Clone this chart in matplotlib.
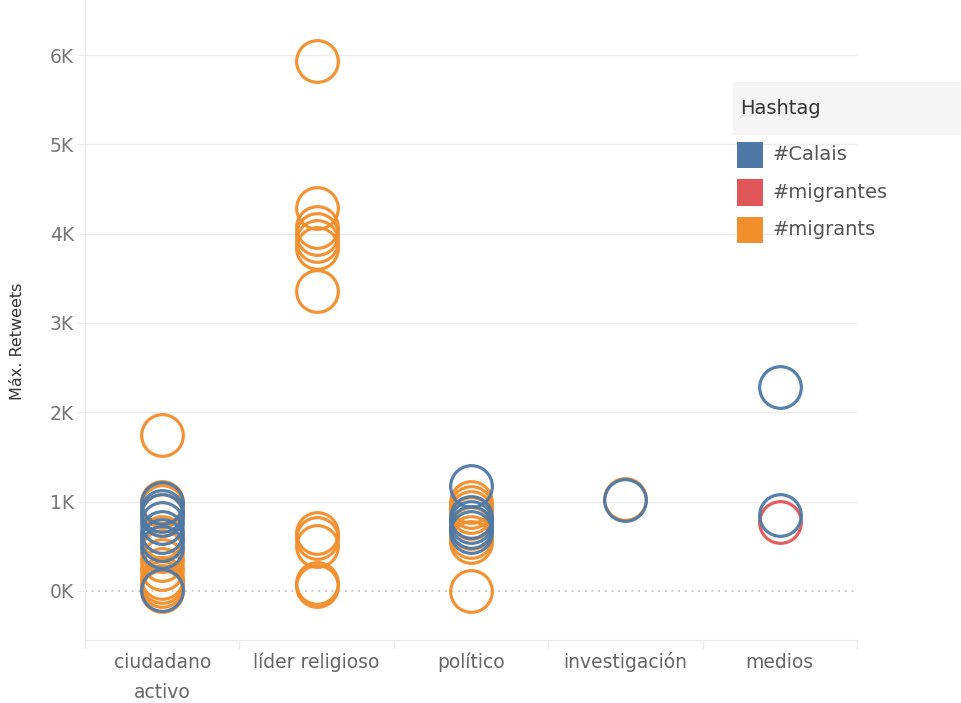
import matplotlib
matplotlib.use("Agg")
import matplotlib.pyplot as plt
from matplotlib.patches import Rectangle
from matplotlib.lines import Line2D
import matplotlib.ticker as mticker

plt.rcParams["font.family"] = ["DejaVu Sans"]

categories = ["ciudadano\nactivo", "líder religioso", "político", "investigación", "medios"]

hashtags = ["#Calais", "#migrantes", "#migrants"]
colors = {"#Calais": "#4E79A7", "#migrantes": "#E15759", "#migrants": "#F28E2B"}

# category index and max retweets per point
calais_cat = [0, 0, 0, 0, 0, 0, 0, 0, 2, 2, 2, 2, 2, 3, 4, 4]
calais_vals = [980, 900, 850, 760, 660, 570, 490, 10, 1180, 830, 770, 720, 660, 1020, 2280, 850]

migrantes_cat = [4]
migrantes_vals = [770]

migrants_cat = [0] * 12 + [1] * 12 + [2] * 8 + [3]
migrants_vals = [1750, 1000, 950, 850, 600, 450, 350, 250, 150, 100, 50, 0,
                 5930, 4290, 4070, 4000, 3920, 3840, 3360, 650, 590, 500, 90, 50,
                 1000, 940, 880, 820, 700, 600, 550, 0,
                 1030]

W, H = 961, 703
fig = plt.figure(figsize=(W / 100, H / 100), dpi=100)
ax = fig.add_axes([85 / W, (H - 640) / H, (857 - 85) / W, 640 / H])

series = [("#migrants", migrants_cat, migrants_vals),
          ("#migrantes", migrantes_cat, migrantes_vals),
          ("#Calais", calais_cat, calais_vals)]
for name, cats, vals in series:
    ax.plot(cats, vals, linestyle="none", marker="o", markersize=30,
            markerfacecolor="none", markeredgecolor=colors[name],
            markeredgewidth=2.3, alpha=0.95, clip_on=False)

ax.set_xlim(-0.5, 4.5)
ax.set_ylim(-549, 6616)
ax.set_yticks(range(0, 7000, 1000))
ax.yaxis.set_major_formatter(mticker.FuncFormatter(lambda v, p: f"{int(v / 1000)}K"))
ax.set_xticks(range(len(categories)))
ax.set_xticklabels(categories, linespacing=1.75)

ax.grid(False)
for v in range(1000, 7000, 1000):
    ax.axhline(v, color="#ececec", lw=1, zorder=0)
ax.axhline(0, color="#bbbbbb", lw=1.2, linestyle=(0, (1, 3)), zorder=0)

for s in ["top", "right"]:
    ax.spines[s].set_visible(False)
ax.spines["left"].set_color("#ececec")
ax.spines["bottom"].set_color("#ececec")
ax.tick_params(axis="y", length=6, color="#ececec", labelcolor="#777777", labelsize=13.5, pad=2)
ax.tick_params(axis="x", length=0, labelcolor="#666666", labelsize=13.5, pad=9)

# category separators under the axis
for b in [-0.5, 0.5, 1.5, 2.5, 3.5, 4.5]:
    ax.add_line(Line2D([b, b], [0, -8 / 640], transform=ax.get_xaxis_transform(),
                       color="#ececec", lw=1, clip_on=False))

fig.text(18 / W, 1 - 341 / H, "Máx. Retweets", rotation=90, ha="center", va="center",
         fontsize=11.5, color="#333333")

# legend panel
fig.patches.append(Rectangle((733 / W, 1 - 135 / H), (W - 733) / W, 53 / H,
                             transform=fig.transFigure, facecolor="#f5f5f5",
                             edgecolor="none", zorder=0))
fig.text(740 / W, 1 - 108 / H, "Hashtag", ha="left", va="center",
         fontsize=14, color="#333333")
for i, name in enumerate(hashtags):
    yc = 155 + i * 37.5
    fig.patches.append(Rectangle((737 / W, 1 - (yc + 13) / H), 26 / W, 26 / H,
                                 transform=fig.transFigure, facecolor=colors[name],
                                 edgecolor="none"))
    fig.text(773 / W, 1 - yc / H, name, ha="left", va="center",
             fontsize=14, color="#555555")

fig.savefig("out.png", dpi=100)
